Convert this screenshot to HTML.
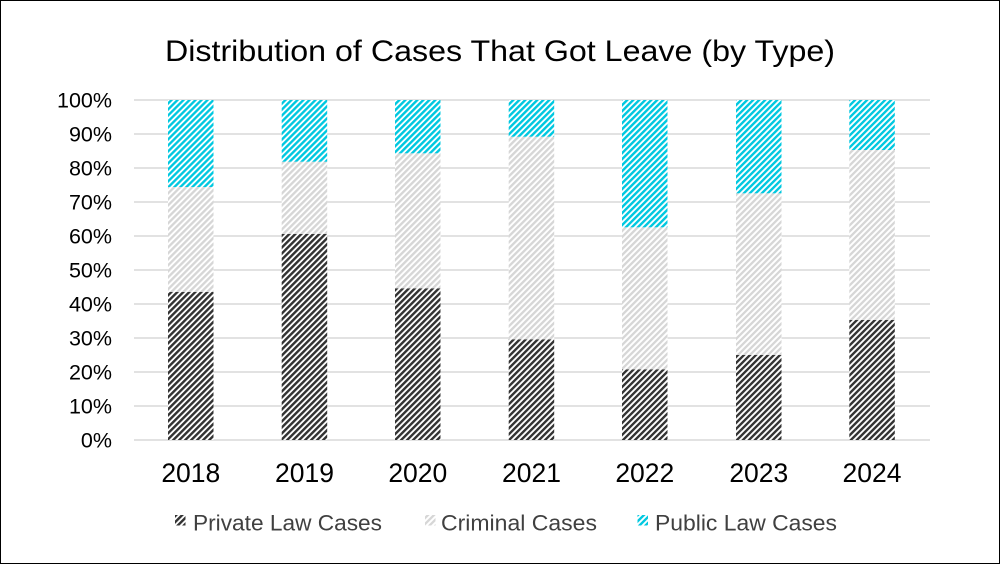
<!DOCTYPE html>
<html>
<head>
<meta charset="utf-8">
<style>
  html, body { margin:0; padding:0; background:#fff; }
  svg { display:block; }
  text { font-family: "Liberation Sans", Arial, sans-serif; }
</style>
</head>
<body>
<svg width="1000" height="564" viewBox="0 0 1000 564" xmlns="http://www.w3.org/2000/svg">
  <defs>
    <pattern id="pDark" patternUnits="userSpaceOnUse" width="4.24" height="10" patternTransform="rotate(45)">
      <rect x="0" y="0" width="4.24" height="10" fill="#ffffff"/>
      <rect x="0" y="0" width="2.4" height="10" fill="#333333"/>
    </pattern>
    <pattern id="pGray" patternUnits="userSpaceOnUse" width="4.24" height="10" patternTransform="rotate(45)">
      <rect x="0" y="0" width="4.24" height="10" fill="#ffffff"/>
      <rect x="0" y="0" width="2.3" height="10" fill="#d6d6d6"/>
    </pattern>
    <pattern id="pCyan" patternUnits="userSpaceOnUse" width="4.24" height="10" patternTransform="rotate(45)">
      <rect x="0" y="0" width="4.24" height="10" fill="#ffffff"/>
      <rect x="0" y="0" width="2.4" height="10" fill="#00c8e0"/>
    </pattern>
  </defs>

  <rect x="0.5" y="0.5" width="999" height="563" fill="#ffffff" stroke="#000000" stroke-width="1"/>

  <text x="500" y="61" font-size="30" text-anchor="middle" textLength="670" lengthAdjust="spacingAndGlyphs" fill="#000">Distribution of Cases That Got Leave (by Type)</text>

  <!-- gridlines -->
  <g stroke="#d9d9d9" stroke-width="1.5">
    <line x1="134" y1="100" x2="930" y2="100"/>
    <line x1="134" y1="134" x2="930" y2="134"/>
    <line x1="134" y1="168" x2="930" y2="168"/>
    <line x1="134" y1="202" x2="930" y2="202"/>
    <line x1="134" y1="236" x2="930" y2="236"/>
    <line x1="134" y1="270" x2="930" y2="270"/>
    <line x1="134" y1="304" x2="930" y2="304"/>
    <line x1="134" y1="338" x2="930" y2="338"/>
    <line x1="134" y1="372" x2="930" y2="372"/>
    <line x1="134" y1="406" x2="930" y2="406"/>
    <line x1="134" y1="440" x2="930" y2="440"/>
  </g>

  <!-- y labels -->
  <g font-size="21.5" fill="#000" text-anchor="end">
    <text x="112" y="107.7">100%</text>
    <text x="112" y="141.7">90%</text>
    <text x="112" y="175.7">80%</text>
    <text x="112" y="209.7">70%</text>
    <text x="112" y="243.7">60%</text>
    <text x="112" y="277.7">50%</text>
    <text x="112" y="311.7">40%</text>
    <text x="112" y="345.7">30%</text>
    <text x="112" y="379.7">20%</text>
    <text x="112" y="413.7">10%</text>
    <text x="112" y="447.7">0%</text>
  </g>

  <!-- bars -->
  <!-- 2018 -->
  <rect x="168" y="292" width="45.5" height="148" fill="url(#pDark)"/>
  <rect x="168" y="187" width="45.5" height="105" fill="url(#pGray)"/>
  <rect x="168" y="100" width="45.5" height="87" fill="url(#pCyan)"/>
  <!-- 2019 -->
  <rect x="281.7" y="234" width="45.5" height="206" fill="url(#pDark)"/>
  <rect x="281.7" y="161.7" width="45.5" height="72.3" fill="url(#pGray)"/>
  <rect x="281.7" y="100" width="45.5" height="61.7" fill="url(#pCyan)"/>
  <!-- 2020 -->
  <rect x="395" y="288.3" width="45.5" height="151.7" fill="url(#pDark)"/>
  <rect x="395" y="153.3" width="45.5" height="135" fill="url(#pGray)"/>
  <rect x="395" y="100" width="45.5" height="53.3" fill="url(#pCyan)"/>
  <!-- 2021 -->
  <rect x="508.7" y="339.3" width="45.5" height="100.7" fill="url(#pDark)"/>
  <rect x="508.7" y="136.7" width="45.5" height="202.6" fill="url(#pGray)"/>
  <rect x="508.7" y="100" width="45.5" height="36.7" fill="url(#pCyan)"/>
  <!-- 2022 -->
  <rect x="622" y="369.3" width="45.5" height="70.7" fill="url(#pDark)"/>
  <rect x="622" y="227.3" width="45.5" height="142" fill="url(#pGray)"/>
  <rect x="622" y="100" width="45.5" height="127.3" fill="url(#pCyan)"/>
  <!-- 2023 -->
  <rect x="736" y="355" width="45.5" height="85" fill="url(#pDark)"/>
  <rect x="736" y="193.3" width="45.5" height="161.7" fill="url(#pGray)"/>
  <rect x="736" y="100" width="45.5" height="93.3" fill="url(#pCyan)"/>
  <!-- 2024 -->
  <rect x="849.3" y="320" width="45.5" height="120" fill="url(#pDark)"/>
  <rect x="849.3" y="150" width="45.5" height="170" fill="url(#pGray)"/>
  <rect x="849.3" y="100" width="45.5" height="50" fill="url(#pCyan)"/>

  <!-- x labels -->
  <g font-size="26.5" fill="#000" text-anchor="middle">
    <text x="190.8" y="482">2018</text>
    <text x="304.5" y="482">2019</text>
    <text x="417.8" y="482">2020</text>
    <text x="531.5" y="482">2021</text>
    <text x="644.8" y="482">2022</text>
    <text x="758.8" y="482">2023</text>
    <text x="872" y="482">2024</text>
  </g>

  <!-- legend -->
  <rect x="175" y="515" width="10.5" height="10.5" fill="url(#pDark)"/>
  <text x="193" y="530.5" font-size="22.5" fill="#404040" textLength="189" lengthAdjust="spacingAndGlyphs">Private Law Cases</text>
  <rect x="425" y="515" width="10.5" height="10.5" fill="url(#pGray)"/>
  <text x="441" y="530.5" font-size="22.5" fill="#404040" textLength="156" lengthAdjust="spacingAndGlyphs">Criminal Cases</text>
  <rect x="637.5" y="515" width="10.5" height="10.5" fill="url(#pCyan)"/>
  <text x="655" y="530.5" font-size="22.5" fill="#404040" textLength="182" lengthAdjust="spacingAndGlyphs">Public Law Cases</text>
</svg>
</body>
</html>
